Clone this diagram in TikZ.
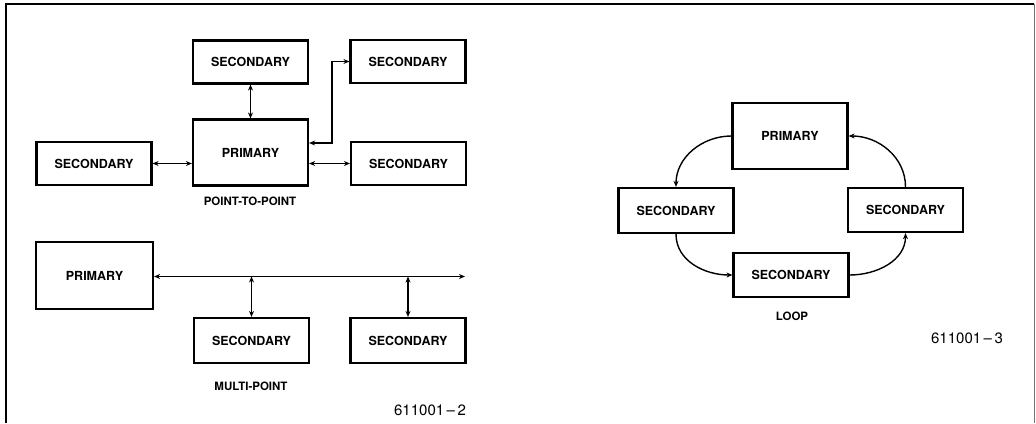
\documentclass[tikz,border=0pt]{standalone}
\usepackage{fontspec}
\setmainfont{TeX Gyre Heros}
\usepackage{tikz}
\usetikzlibrary{arrows.meta,positioning,calc}

\begin{document}
\begin{tikzpicture}[x=1pt, y=-1pt,
    secbox/.style={rectangle, draw, line width=2.2pt,
        minimum width=115pt, minimum height=43pt,
        font=\fontsize{12.5}{14}\selectfont\bfseries, inner sep=0pt},
    primbox/.style={secbox, minimum width=115pt, minimum height=66pt},
    caption/.style={font=\fontsize{11.5}{13}\selectfont\bfseries},
    figno/.style={font=\fontsize{15}{17}\selectfont},
    arr/.style={-{Stealth[length=6pt, width=5pt]}, line width=1.4pt},
    arrtwo/.style={{Stealth[length=6pt, width=5pt]}-{Stealth[length=6pt, width=5pt]}, line width=1.4pt}
]
    \useasboundingbox (0,0) rectangle (1036,423);
    \draw[line width=1.8pt] (6,423) -- (6,4) -- (1034,4);
    \draw[line width=0.8pt, black!55] (1034,4) -- (1034,423);

    % point-to-point
    \node[primbox] (ppprim) at (250.5,152.5) {PRIMARY};
    \node[secbox] (pptop) at (250.5,62) {SECONDARY};
    \node[secbox] (pptr) at (408,61.5) {SECONDARY};
    \node[secbox] (ppleft) at (94,163.5) {SECONDARY};
    \node[secbox] (ppright) at (408.5,163.5) {SECONDARY};
    \node[caption] (pplabel) at (250,201) {POINT-TO-POINT};

    \draw[arrtwo] (pptop) -- (ppprim);
    \draw[arrtwo] (ppleft.east) -- (ppleft.east -| ppprim.west);
    \draw[arrtwo] (ppright.west) -- (ppright.west -| ppprim.east);
    \draw[arrtwo] ([yshift=9.5pt]ppprim.east) -- ++(23,0) |- (pptr.west);

    % multi-point
    \node[primbox, minimum width=117pt, minimum height=67pt] (mpprim) at (94.5,275.5) {PRIMARY};
    \node[secbox, minimum height=45pt] (mpsa) at (251.5,340.5) {SECONDARY};
    \node[secbox, minimum height=45pt] (mpsb) at (408,340.5) {SECONDARY};
    \coordinate (busend) at (465,276.5);
    \node[caption] (mplabel) at (251,386) {MULTI-POINT};
    \node[figno] (mpfig) at (430,410) {611001\,--\,2};

    \draw[arrtwo] (mpprim.east |- busend) -- (busend);
    \draw[arrtwo] (mpsa.north) -- (mpsa.north |- busend);
    \draw[arrtwo] (mpsb.north) -- (mpsb.north |- busend);

    % loop
    \node[primbox] (lpprim) at (790,136) {PRIMARY};
    \node[secbox, minimum height=45pt] (lpleft) at (676,210.5) {SECONDARY};
    \node[secbox, minimum height=44pt] (lpright) at (905.5,210) {SECONDARY};
    \node[secbox, minimum height=44pt] (lpbot) at (791,275) {SECONDARY};
    \node[caption] (lplabel) at (792,316) {LOOP};
    \node[figno] (lpfig) at (967,338) {611001\,--\,3};

    \draw[arr] (lpprim.west) to[out=180, in=90] (lpleft.north);
    \draw[arr] (lpleft.south) to[out=-90, in=180] (lpbot.west);
    \draw[arr] (lpbot.east) to[out=0, in=-90] (lpright.south);
    \draw[arr] (lpright.north) to[out=90, in=0] (lpprim.east);
\end{tikzpicture}
\end{document}
